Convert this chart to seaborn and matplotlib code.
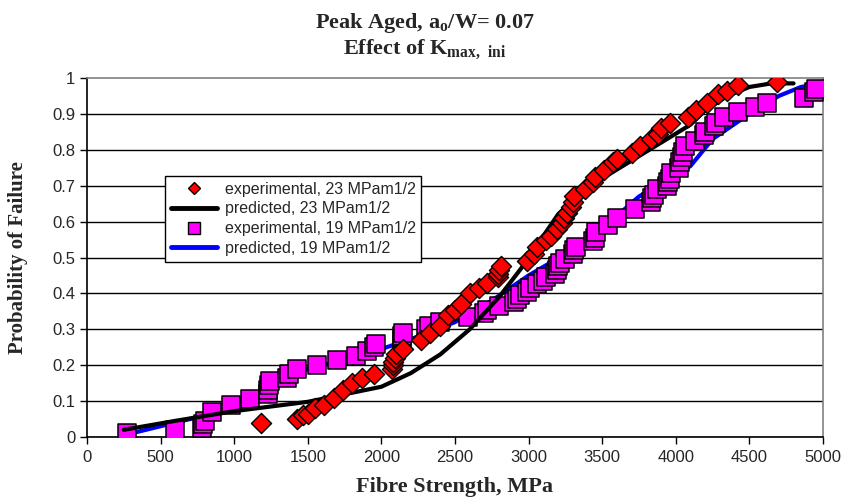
import matplotlib
matplotlib.use("Agg")
import matplotlib.pyplot as plt
import seaborn as sns
import pandas as pd
from matplotlib.lines import Line2D

# ---- data ----
exp23_x = [1180, 1430, 1470, 1500, 1550, 1610, 1680, 1740, 1800, 1870, 1950, 2070, 2080, 2080,
           2090, 2100, 2150, 2270, 2330, 2400, 2450, 2500, 2540, 2600, 2660, 2720, 2790, 2790,
           2800, 2810, 2990, 3040, 3060, 3120, 3150, 3190, 3230, 3240, 3260, 3290, 3300, 3310,
           3380, 3440, 3450, 3510, 3570, 3600, 3700, 3760, 3830, 3880, 3900, 3960, 4080, 4140,
           4210, 4290, 4350, 4420, 4690]
exp23_y = [0.04, 0.05, 0.06, 0.065, 0.08, 0.09, 0.11, 0.13, 0.15, 0.165, 0.175, 0.19, 0.20, 0.21,
           0.22, 0.23, 0.245, 0.27, 0.29, 0.31, 0.34, 0.355, 0.37, 0.40, 0.415, 0.43, 0.445, 0.455,
           0.465, 0.475, 0.49, 0.51, 0.53, 0.55, 0.56, 0.58, 0.595, 0.61, 0.625, 0.64, 0.655, 0.67,
           0.69, 0.71, 0.725, 0.745, 0.765, 0.775, 0.79, 0.81, 0.83, 0.845, 0.86, 0.875, 0.89, 0.91,
           0.93, 0.955, 0.965, 0.98, 0.99]

exp19_x = [270, 600, 780, 790, 800, 850, 980, 1110, 1230, 1230, 1235, 1240, 1360, 1370, 1430,
           1560, 1700, 1830, 1900, 1950, 1960, 2140, 2140, 2150, 2300, 2320, 2400, 2590, 2700,
           2720, 2800, 2900, 2920, 2940, 2990, 3010, 3060, 3100, 3120, 3180, 3190, 3200, 3210,
           3250, 3300, 3310, 3320, 3440, 3450, 3460, 3540, 3600, 3720, 3830, 3840, 3850, 3870,
           3940, 3950, 3960, 3970, 4020, 4030, 4040, 4050, 4060, 4130, 4190, 4200, 4260, 4270,
           4330, 4420, 4540, 4620, 4870, 4940, 4950]
exp19_y = [0.01, 0.02, 0.025, 0.035, 0.045, 0.07, 0.09, 0.105, 0.12, 0.13, 0.145, 0.155, 0.165,
           0.175, 0.19, 0.20, 0.215, 0.225, 0.24, 0.25, 0.26, 0.27, 0.28, 0.29, 0.30, 0.31, 0.32,
           0.335, 0.345, 0.355, 0.365, 0.375, 0.385, 0.395, 0.405, 0.415, 0.425, 0.435, 0.445,
           0.455, 0.465, 0.475, 0.485, 0.495, 0.51, 0.52, 0.53, 0.545, 0.555, 0.57, 0.59, 0.61,
           0.635, 0.655, 0.665, 0.675, 0.69, 0.70, 0.71, 0.72, 0.735, 0.75, 0.765, 0.78, 0.795,
           0.81, 0.825, 0.84, 0.85, 0.865, 0.875, 0.89, 0.905, 0.92, 0.93, 0.945, 0.96, 0.97]

pred23_x = [250, 600, 1000, 1500, 2000, 2200, 2400, 2600, 2800, 2950, 3050, 3200, 3300, 3500,
            3700, 3900, 4100, 4200, 4350, 4500, 4650, 4800]
pred23_y = [0.02, 0.045, 0.072, 0.098, 0.14, 0.178, 0.23, 0.30, 0.39, 0.47, 0.53, 0.62, 0.66,
            0.72, 0.77, 0.82, 0.87, 0.91, 0.95, 0.975, 0.985, 0.985]

pred19_x = [250, 500, 750, 1000, 1250, 1500, 1750, 2000, 2250, 2500, 2750, 3000, 3250, 3500,
            3750, 4000, 4100, 4250, 4500, 4700, 4850, 5000]
pred19_y = [0.005, 0.03, 0.055, 0.09, 0.14, 0.19, 0.215, 0.245, 0.28, 0.32, 0.38, 0.45, 0.51,
            0.58, 0.67, 0.73, 0.755, 0.83, 0.90, 0.95, 0.975, 0.985]

x_ticks = [0, 500, 1000, 1500, 2000, 2500, 3000, 3500, 4000, 4500, 5000]
y_ticks = [0, 0.1, 0.2, 0.3, 0.4, 0.5, 0.6, 0.7, 0.8, 0.9, 1]
y_tick_labels = ["0", "0.1", "0.2", "0.3", "0.4", "0.5", "0.6", "0.7", "0.8", "0.9", "1"]

labels = ["experimental, 23 MPam1/2", "predicted, 23 MPam1/2",
          "experimental, 19 MPam1/2", "predicted, 19 MPam1/2"]

# ---- style ----
sns.set_style("ticks")
plt.rcParams["font.family"] = ["Liberation Sans", "DejaVu Sans"]
plt.rcParams["mathtext.fontset"] = "custom"
plt.rcParams["mathtext.rm"] = "Liberation Serif:bold"
plt.rcParams["mathtext.bf"] = "Liberation Serif:bold"

fig = plt.figure(figsize=(8.5, 5), dpi=100)
ax = fig.add_axes([87 / 850, 1 - 437 / 500, (823 - 87) / 850, (437 - 78) / 500])

d19 = pd.DataFrame({"x": exp19_x, "y": exp19_y})
d23 = pd.DataFrame({"x": exp23_x, "y": exp23_y})
p19 = pd.DataFrame({"x": pred19_x, "y": pred19_y})
p23 = pd.DataFrame({"x": pred23_x, "y": pred23_y})

sns.lineplot(data=p19, x="x", y="y", ax=ax, color="#0000ff", lw=3, zorder=2,
             sort=False, estimator=None)
sns.scatterplot(data=d19, x="x", y="y", ax=ax, marker="s", s=165, color="#ff00ff",
                edgecolor="black", linewidth=1.1, zorder=3)
sns.lineplot(data=p23, x="x", y="y", ax=ax, color="black", lw=3, zorder=4,
             sort=False, estimator=None)
sns.scatterplot(data=d23, x="x", y="y", ax=ax, marker="D", s=105, color="#ff0000",
                edgecolor="black", linewidth=1.0, zorder=5)

ax.set_xlim(0, 5000)
ax.set_ylim(0, 1)
ax.set_xticks(x_ticks)
ax.set_yticks(y_ticks)
ax.set_yticklabels(y_tick_labels)
ax.tick_params(axis="both", labelsize=12, length=5, width=1, direction="out", color="black")
ax.tick_params(axis="x", pad=4)

ax.yaxis.grid(True, color="black", lw=1)
ax.set_axisbelow(True)
for s in ["left", "bottom"]:
    ax.spines[s].set_color("black")
    ax.spines[s].set_linewidth(1.2)
for s in ["top", "right"]:
    ax.spines[s].set_visible(True)
    ax.spines[s].set_color("#808080")
    ax.spines[s].set_linewidth(1.2)
fig.canvas.draw()
ax.get_ygridlines()[-1].set_visible(False)

ax.set_xlabel("Fibre Strength, MPa", family="Liberation Serif", fontweight="bold",
              fontsize=16)
ax.xaxis.set_label_coords(0.5, -(487 - 437) / 359)
ax.xaxis.label.set_va("center")
ax.set_ylabel("Probability of Failure", family="Liberation Serif", fontweight="bold",
              fontsize=15)
ax.yaxis.set_label_coords(-(87 - 18) / 736, 0.5)
ax.yaxis.label.set_va("center")

fig.text(0.5, 1 - 23 / 500, r"Peak Aged, a$_\mathrm{o}$/W= 0.07", ha="center", va="center",
         family="Liberation Serif", fontweight="bold", fontsize=16)
fig.text(0.5, 1 - 50 / 500, r"Effect of K$_\mathrm{max,\ ini}$", ha="center", va="center",
         family="Liberation Serif", fontweight="bold", fontsize=16)

# legend
handles = [
    Line2D([], [], marker="D", ls="none", markersize=6, markerfacecolor="#ff0000",
           markeredgecolor="black", markeredgewidth=1),
    Line2D([], [], color="black", lw=3.5),
    Line2D([], [], marker="s", ls="none", markersize=8, markerfacecolor="#ff00ff",
           markeredgecolor="black", markeredgewidth=1),
    Line2D([], [], color="#0000ff", lw=3.5),
]
leg = ax.legend(handles, labels, loc="upper left", bbox_to_anchor=(165 / 850, 1 - 176 / 500),
                bbox_transform=fig.transFigure, fontsize=11.5, frameon=True, fancybox=False,
                edgecolor="black", framealpha=1, handlelength=2.9, handletextpad=0.5,
                labelspacing=0.3, borderpad=0.35, borderaxespad=0)
leg.get_frame().set_linewidth(1)
leg.set_zorder(10)

fig.savefig("out.png", dpi=100)
